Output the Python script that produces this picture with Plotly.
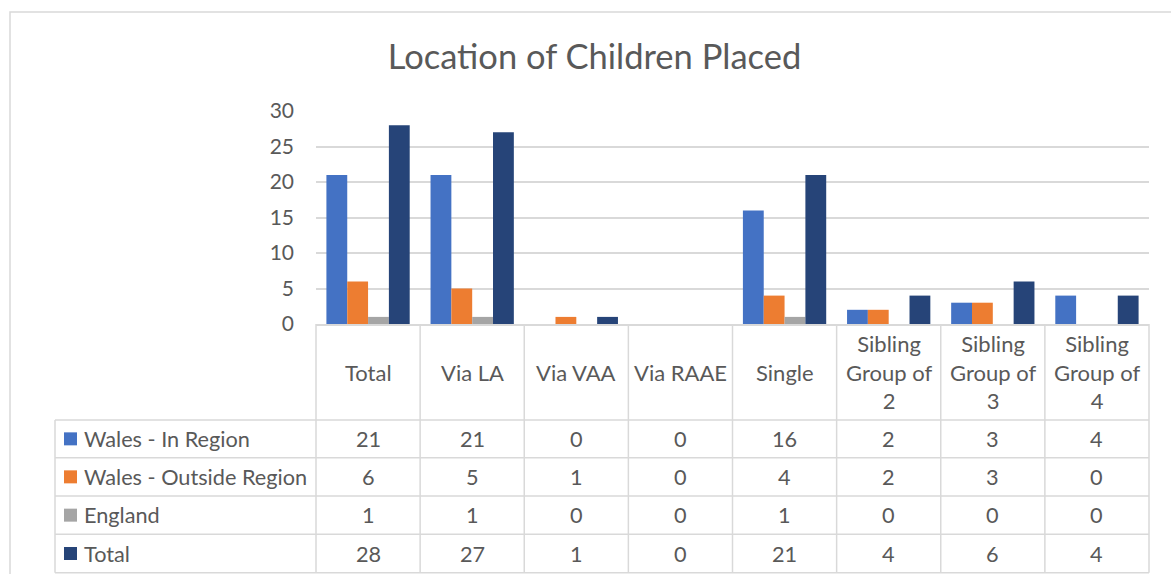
import plotly.graph_objects as go

# ---- data ----
categories = ["Total", "Via LA", "Via VAA", "Via RAAE", "Single",
              "Sibling Group of 2", "Sibling Group of 3", "Sibling Group of 4"]
header_labels = ["Total", "Via LA", "Via VAA", "Via RAAE", "Single",
                 "Sibling<br>Group of<br>2", "Sibling<br>Group of<br>3", "Sibling<br>Group of<br>4"]
series_names = ["Wales - In Region", "Wales - Outside Region", "England", "Total"]
wales_in = [21, 21, 0, 0, 16, 2, 3, 4]
wales_out = [6, 5, 1, 0, 4, 2, 3, 0]
england = [1, 1, 0, 0, 1, 0, 0, 0]
total = [28, 27, 1, 0, 21, 4, 6, 4]
series_values = [wales_in, wales_out, england, total]
colors = ["#4472C4", "#ED7D31", "#A5A5A5", "#264478"]
y_ticks = [0, 5, 10, 15, 20, 25, 30]

# ---- layout geometry (pixels) ----
W, H = 1171, 574
L, R, T, B = 316, 22, 111, 250
pw, ph = W - L - R, H - T - B
FONT = "Lato, Carlito, Calibri, sans-serif"
TXT = "#595959"
LINE = "#d9d9d9"


def px_x(px):
    return (px - L) / pw


def px_y(py):
    return (H - B - py) / ph


fig = go.Figure()
for name, vals, col in zip(series_names, series_values, colors):
    fig.add_trace(go.Bar(x=categories, y=vals, name=name, marker_color=col,
                         marker_line_width=0, showlegend=False))

shapes = []
annotations = []

# outer chart border
shapes.append(dict(type="rect", xref="paper", yref="paper",
                   x0=px_x(10), x1=px_x(1185), y0=px_y(590), y1=px_y(12),
                   line=dict(color=LINE, width=1.5), layer="below"))

n = len(categories)
header_y = 372
row_lines = [420, 457.7, 496, 534.3, 572.7]
# vertical cell borders
for k in range(n + 1):
    shapes.append(dict(type="line", xref="paper", yref="paper",
                       x0=k / n, x1=k / n, y0=px_y(H - B), y1=px_y(row_lines[-1]),
                       line=dict(color=LINE, width=1.5)))
# left column border
shapes.append(dict(type="line", xref="paper", yref="paper",
                   x0=px_x(55), x1=px_x(55), y0=px_y(row_lines[0]), y1=px_y(row_lines[-1]),
                   line=dict(color=LINE, width=1.5)))
# horizontal row borders
for ry in row_lines:
    shapes.append(dict(type="line", xref="paper", yref="paper",
                       x0=px_x(55), x1=1, y0=px_y(ry), y1=px_y(ry),
                       line=dict(color=LINE, width=1.5)))

# header labels
for cat, lab in zip(categories, header_labels):
    annotations.append(dict(x=cat, xref="x", y=px_y(header_y), yref="paper",
                            text=lab, showarrow=False, xanchor="center", yanchor="middle",
                            font=dict(family=FONT, size=22, color=TXT)))

# table rows
for r, (name, vals, col) in enumerate(zip(series_names, series_values, colors)):
    cy = (row_lines[r] + row_lines[r + 1]) / 2
    shapes.append(dict(type="rect", xref="paper", yref="paper",
                       x0=px_x(64), x1=px_x(77), y0=px_y(cy + 6.5), y1=px_y(cy - 6.5),
                       fillcolor=col, line=dict(width=0)))
    annotations.append(dict(x=px_x(82), xref="paper", y=px_y(cy), yref="paper",
                            text=name, showarrow=False, xanchor="left", yanchor="middle",
                            font=dict(family=FONT, size=21.7, color=TXT)))
    for cat, v in zip(categories, vals):
        annotations.append(dict(x=cat, xref="x", y=px_y(cy), yref="paper",
                                text=str(v), showarrow=False, xanchor="center", yanchor="middle",
                                font=dict(family=FONT, size=21.7, color=TXT)))

fig.update_layout(
    width=W, height=H,
    margin=dict(l=L, r=R, t=T, b=B, pad=0),
    paper_bgcolor="white", plot_bgcolor="white",
    barmode="group", bargap=0.2, bargroupgap=0,
    title=dict(text="Location of Children Placed", x=594.5 / W, xref="container", xanchor="center",
               y=1 - 57 / H, yref="container", yanchor="middle",
               font=dict(family=FONT, size=34.5, color=TXT)),
    xaxis=dict(showticklabels=False, ticks="", showgrid=False, zeroline=False,
               showline=True, linecolor=LINE, linewidth=1.5),
    yaxis=dict(range=[0, 30], tickvals=y_ticks, showgrid=True, gridcolor=LINE, gridwidth=1.5,
               zeroline=False, showline=False, ticks="", ticklabelstandoff=21,
               tickfont=dict(family=FONT, size=21, color=TXT)),
    shapes=shapes, annotations=annotations,
)

fig.write_html("out.html", config={"displayModeBar": False},
               post_script="document.body.style.margin='0';")
